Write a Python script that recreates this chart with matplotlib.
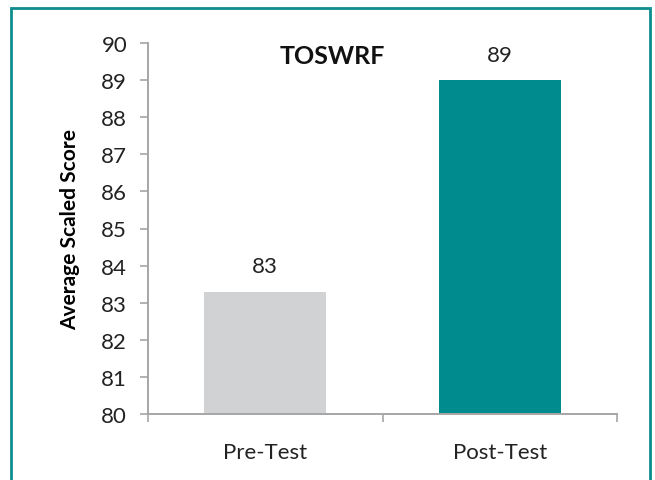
import numpy as np
import matplotlib.pyplot as plt
from matplotlib.patches import Rectangle

categories = ['Pre-Test', 'Post-Test']
scores = [83.3, 89.0]
labels = ['83', '89']
bar_colors = ['#D1D2D4', '#008B8E']
y_ticks = list(range(80, 91))

plt.rcParams['font.family'] = ['Lato', 'DejaVu Sans']

fig = plt.figure(figsize=(6.55, 4.81), dpi=100)
ax = fig.add_axes([148 / 655, 1 - 415 / 481, (617 - 148) / 655, (415 - 44) / 481])

x = np.arange(len(categories))
ax.bar(x, np.array(scores) - 80, bottom=80, width=0.52, color=bar_colors, zorder=2)

for xi, s, lab in zip(x, scores, labels):
    ax.text(xi, s + 0.42, lab, ha='center', va='bottom', fontsize=16, color='#222222')

ax.set_xlim(-0.5, 1.5)
ax.set_ylim(80, 90)
ax.set_yticks(y_ticks)
ax.set_yticklabels([str(t) for t in y_ticks], fontsize=16, color='#222222')
ax.set_xticks(x)
ax.set_xticklabels(categories, fontsize=16, color='#222222')
ax.set_xticks([-0.5, 0.5, 1.5], minor=True)
ax.tick_params(axis='x', which='major', length=0, pad=20)
ax.tick_params(axis='x', which='minor', length=6, color='#A6A6A6', width=1.2)
ax.tick_params(axis='y', length=6, color='#A6A6A6', width=1.2, pad=9)

for side in ['top', 'right']:
    ax.spines[side].set_visible(False)
for side in ['left', 'bottom']:
    ax.spines[side].set_color('#A6A6A6')
    ax.spines[side].set_linewidth(1.4)

ax.set_ylabel('Average Scaled Score', fontsize=15, fontweight='bold')
ax.yaxis.set_label_coords(-0.145, 0.5)

ax.text(0.392, 0.965, 'TOSWRF', transform=ax.transAxes, ha='center', va='center',
        fontsize=18, fontweight='bold', color='#111111')

border = Rectangle((11 / 655, -0.05), (650 - 11) / 655, 1.05 - 9 / 481,
                   transform=fig.transFigure, fill=False, edgecolor='#0E8C8E',
                   linewidth=2, clip_on=False)
fig.patches.append(border)

fig.savefig('out.png', dpi=100)
